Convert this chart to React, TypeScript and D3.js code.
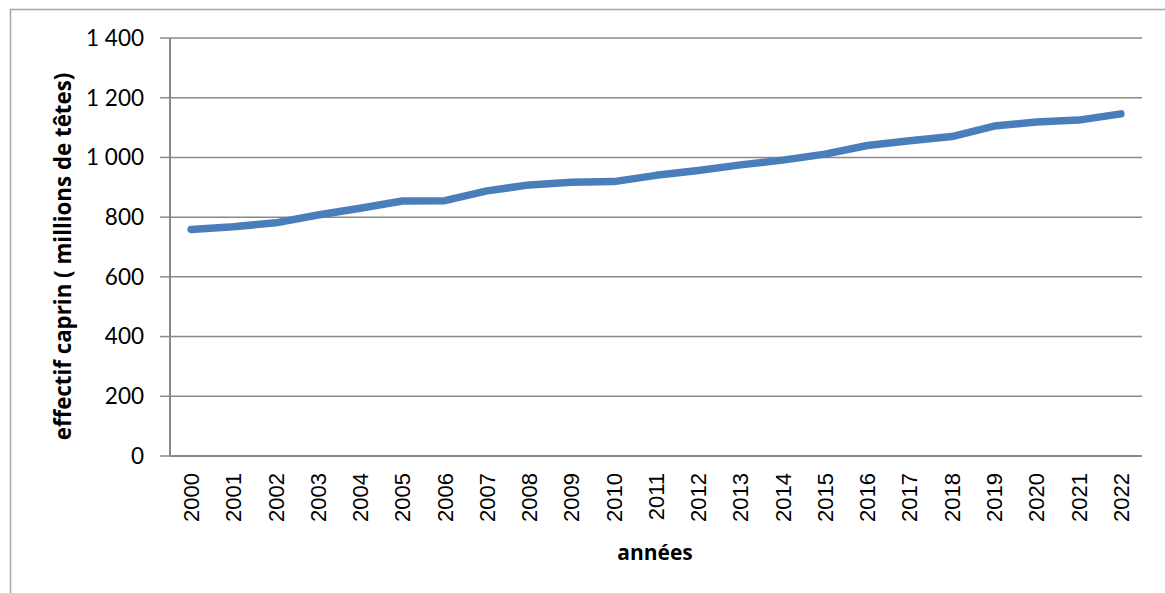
import React from "react";
import * as d3 from "d3";

const years = ["2000","2001","2002","2003","2004","2005","2006","2007","2008","2009","2010","2011","2012","2013","2014","2015","2016","2017","2018","2019","2020","2021","2022"];
const goats = [759, 768, 781, 807, 830, 854, 855, 888, 908, 917, 919, 940, 956, 975, 991, 1011, 1040, 1056, 1070, 1105, 1119, 1125, 1146];
const yTicks = [0, 200, 400, 600, 800, 1000, 1200, 1400];
const yTitle = "effectif caprin ( millions de têtes)";
const xTitle = "années";

const W = 1165, H = 593;
const left = 170, right = 1142, top = 38, bottom = 456;

export default function App() {
  const x = d3.scaleBand<string>().domain(years).range([left, right]).padding(0);
  const y = d3.scaleLinear().domain([0, 1400]).range([bottom, top]);
  const fmt = (v: number) => d3.format(",")(v).replace(/,/g, "\u00a0");
  const line = d3.line<number>()
    .x((_, i) => (x(years[i]) as number) + x.bandwidth() / 2)
    .y(d => y(d));
  const grid = "#898989";
  return (
    <svg width={W} height={H} style={{ position: "absolute", left: 0, top: 0, background: "#fff" }}>
      <rect x={10.5} y={9.5} width={W + 10} height={H + 10} fill="#fff" stroke="#a6a6a6" strokeWidth={1.5} />
      {yTicks.map(t => (
        <g key={t}>
          {t > 0 && <line x1={left} x2={right} y1={y(t)} y2={y(t)} stroke={grid} strokeWidth={1.5} />}
          <line x1={left - 10} x2={left} y1={y(t)} y2={y(t)} stroke={grid} strokeWidth={1.5} />
          <text x={144} y={y(t)} dy="0.35em" textAnchor="end" fontFamily="Lato, 'Open Sans', sans-serif" fontSize={22.5} fill="#000">{fmt(t)}</text>
        </g>
      ))}
      <line x1={left} x2={left} y1={top} y2={bottom} stroke={grid} strokeWidth={2} />
      <line x1={left} x2={right} y1={bottom} y2={bottom} stroke={grid} strokeWidth={2} />
      {years.map(yr => {
        const cx = (x(yr) as number) + x.bandwidth() / 2;
        return (
          <text key={yr} transform={`translate(${cx},${473}) rotate(-90)`} dy="0.36em" textAnchor="end"
            fontFamily="'Liberation Sans', Arial, sans-serif" fontSize={22} fill="#000">{yr}</text>
        );
      })}
      <path d={line(goats) || ""} fill="none" stroke="#4a7ebb" strokeWidth={7.5} strokeLinecap="round" strokeLinejoin="round" />
      <text transform={`translate(63,256.5) rotate(-90)`} dy="0.35em" textAnchor="middle"
        fontFamily="'Open Sans', Lato, sans-serif" fontWeight="bold" fontSize={22.3} fill="#000">{yTitle}</text>
      <text x={655} y={560} textAnchor="middle" fontFamily="'Open Sans', Lato, sans-serif" fontWeight="bold" fontSize={21} fill="#000">{xTitle}</text>
    </svg>
  );
}
